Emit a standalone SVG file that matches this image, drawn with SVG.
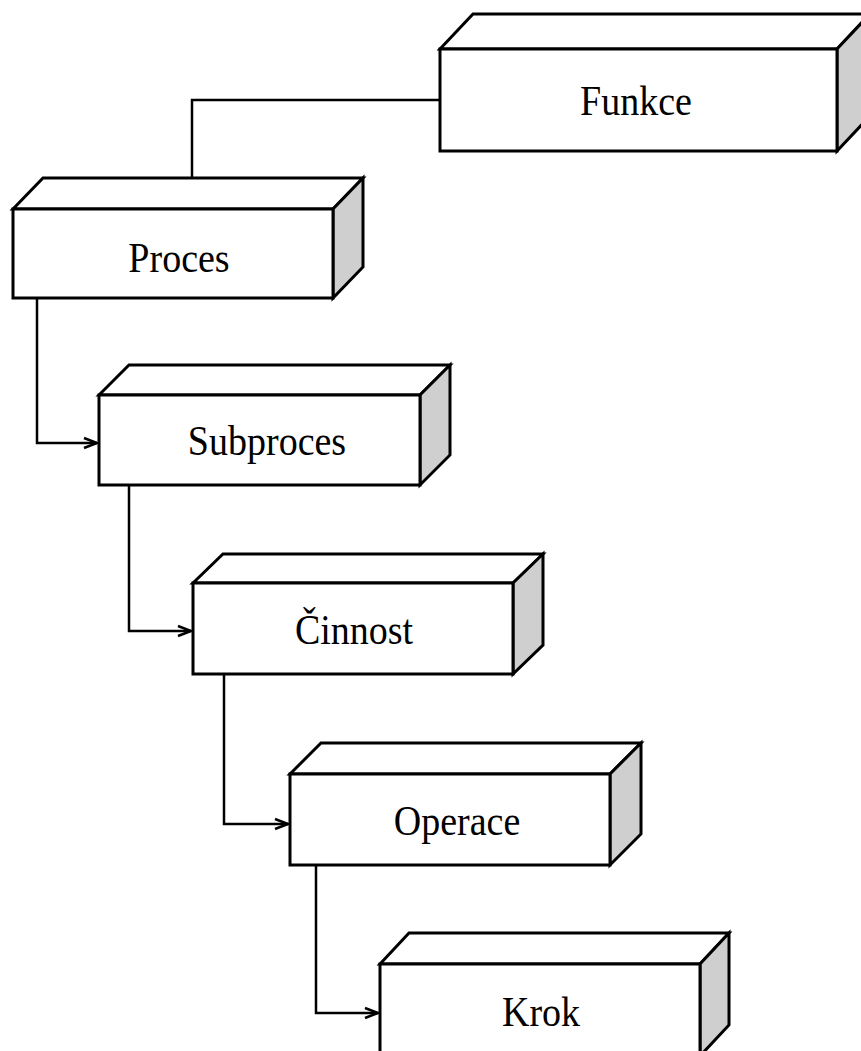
<svg xmlns="http://www.w3.org/2000/svg" width="861" height="1051" viewBox="0 0 861 1051">
  <style>
    .face { fill: #ffffff; stroke: #000000; stroke-width: 3; stroke-linejoin: miter; }
    .side { fill: #cfcfcf; stroke: #000000; stroke-width: 3; stroke-linejoin: miter; }
    .label { font-family: "Liberation Serif", "Times New Roman", serif; font-size: 38px; fill: #000000; text-anchor: middle; }
    .link { fill: none; stroke: #000000; stroke-width: 2.5; }
  </style>
  <defs>
    <marker id="chevron" markerUnits="userSpaceOnUse" markerWidth="20" markerHeight="16" viewBox="-16 -8 20 16" refX="0" refY="0" orient="auto">
      <path d="M-13,-5 L0,0 L-13,5" fill="none" stroke="#000000" stroke-width="2.5"/>
    </marker>
  </defs>
  <rect width="861" height="1051" fill="#ffffff"/>

  <!-- connectors -->
  <g id="connectors">
    <path class="link" d="M440,100 H192 V178"/>
    <path class="link" d="M37,298 V443 H97" marker-end="url(#chevron)"/>
    <path class="link" d="M129,485 V631 H191" marker-end="url(#chevron)"/>
    <path class="link" d="M224,674 V824 H288" marker-end="url(#chevron)"/>
    <path class="link" d="M316,865 V1013 H378" marker-end="url(#chevron)"/>
  </g>

  <!-- Funkce: front 440,49 397x102, depth 33/35 -->
  <g id="funkce">
    <polygon class="face" points="440,49 473,14 870,14 837,49"/>
    <polygon class="side" points="837,49 870,14 870,116 837,151"/>
    <rect class="face" x="440" y="49" width="397" height="102"/>
    <text class="label" transform="translate(636,115) scale(1,1.1)">Funkce</text>
  </g>

  <!-- Proces: front 13,209 320x89, depth 30/31 -->
  <g id="proces">
    <polygon class="face" points="13,209 43,178 363,178 333,209"/>
    <polygon class="side" points="333,209 363,178 363,267 333,298"/>
    <rect class="face" x="13" y="209" width="320" height="89"/>
    <text class="label" transform="translate(179,272) scale(1,1.1)">Proces</text>
  </g>

  <!-- Subproces: front 99,395 321x90, depth 30/30 -->
  <g id="subproces">
    <polygon class="face" points="99,395 129,365 450,365 420,395"/>
    <polygon class="side" points="420,395 450,365 450,455 420,485"/>
    <rect class="face" x="99" y="395" width="321" height="90"/>
    <text class="label" transform="translate(267,455) scale(1,1.1)">Subproces</text>
  </g>

  <!-- Činnost: front 193,583 320x91, depth 30/29 -->
  <g id="cinnost">
    <polygon class="face" points="193,583 223,554 543,554 513,583"/>
    <polygon class="side" points="513,583 543,554 543,645 513,674"/>
    <rect class="face" x="193" y="583" width="320" height="91"/>
    <text class="label" transform="translate(354,644) scale(1,1.1)">Činnost</text>
  </g>

  <!-- Operace: front 290,774 320x91, depth 31/31 -->
  <g id="operace">
    <polygon class="face" points="290,774 321,743 641,743 610,774"/>
    <polygon class="side" points="610,774 641,743 641,834 610,865"/>
    <rect class="face" x="290" y="774" width="320" height="91"/>
    <text class="label" transform="translate(457,835) scale(1,1.1)">Operace</text>
  </g>

  <!-- Krok: front 380,964 320x92, depth 29/31 -->
  <g id="krok">
    <polygon class="face" points="380,964 409,933 729,933 700,964"/>
    <polygon class="side" points="700,964 729,933 729,1025 700,1056"/>
    <rect class="face" x="380" y="964" width="320" height="92"/>
    <text class="label" transform="translate(541,1026) scale(1,1.1)">Krok</text>
  </g>
</svg>
